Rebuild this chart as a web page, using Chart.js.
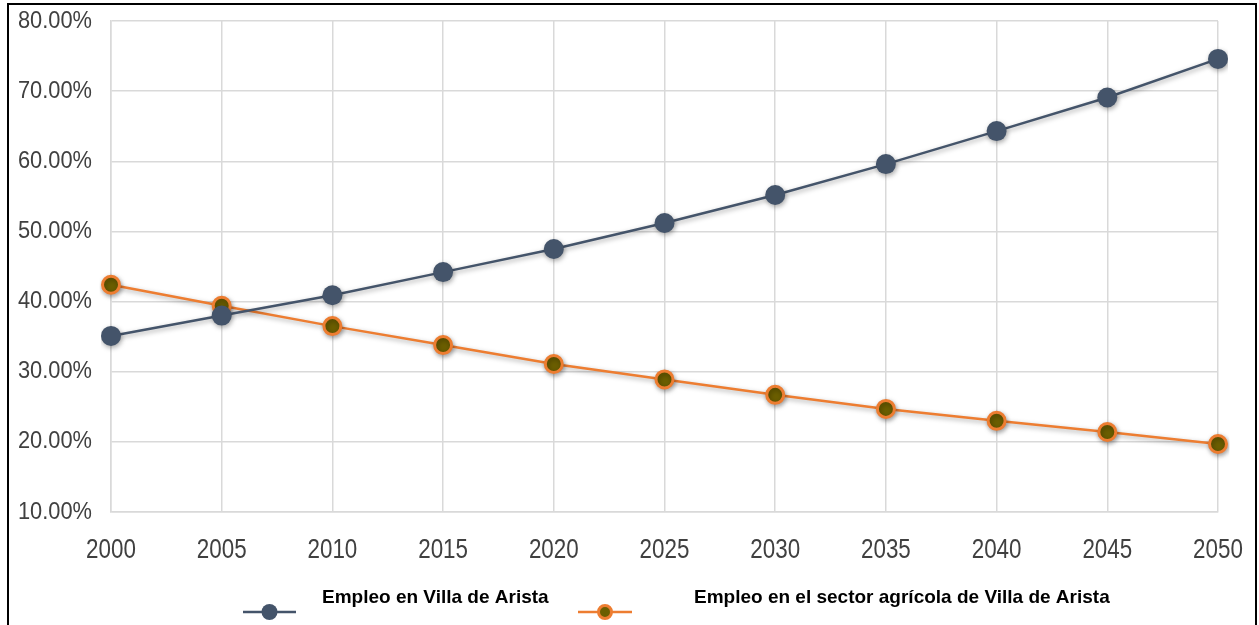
<!DOCTYPE html>
<html>
<head>
<meta charset="utf-8">
<style>
  html, body { margin: 0; padding: 0; background: #fff; }
  #wrap { width: 1259px; height: 625px; position: relative; }
</style>
<script src="https://cdn.jsdelivr.net/npm/chart.js@4/dist/chart.umd.min.js"></script>
</head>
<body>
<div id="wrap"><canvas id="chart" width="1259" height="625"></canvas></div>
<script>
  // Years on the x axis
  var years = ["2000", "2005", "2010", "2015", "2020", "2025", "2030", "2035", "2040", "2045", "2050"];

  // Share of employment, percent
  var empleoTotal = [35.1, 38.0, 40.9, 44.2, 47.5, 51.2, 55.2, 59.6, 64.3, 69.1, 74.6];
  var empleoAgricola = [42.4, 39.4, 36.5, 33.8, 31.1, 28.9, 26.7, 24.7, 23.0, 21.4, 19.7];

  var seriesNames = ["Empleo en Villa de Arista", "Empleo en el sector agrícola de Villa de Arista"];

  var FONT = "'Liberation Sans', Arial, sans-serif";
  var TEXT = "#404040";
  var GRID = "#d9d9d9";

  function pct(v) { return v.toFixed(2) + "%"; }

  // soft drop shadow under lines and markers
  var shadowPlugin = {
    id: "shadow",
    beforeDatasetDraw: function (chart) {
      var ctx = chart.ctx;
      ctx.save();
      ctx.shadowColor = "rgba(0,0,0,0.35)";
      ctx.shadowBlur = 5;
      ctx.shadowOffsetX = 1;
      ctx.shadowOffsetY = 2;
    },
    afterDatasetDraw: function (chart) {
      chart.ctx.restore();
    }
  };

  // narrow tick labels: no condensed face installed, so squeeze the regular one
  function narrowText(ctx, text, x, y, size, squeeze, align) {
    ctx.save();
    ctx.font = size + "px " + FONT;
    ctx.fillStyle = TEXT;
    ctx.textBaseline = "middle";
    ctx.textAlign = align;
    ctx.translate(x, y);
    ctx.scale(squeeze, 1);
    ctx.fillText(text, 0, 0);
    ctx.restore();
  }

  var tickLabelPlugin = {
    id: "tickLabels",
    afterDraw: function (chart) {
      var ctx = chart.ctx;
      var xs = chart.scales.x, ys = chart.scales.y;
      xs.ticks.forEach(function (t, i) {
        narrowText(ctx, xs.getLabelForValue(t.value), xs.getPixelForTick(i), 550, 28, 0.8, "center");
      });
      ys.ticks.forEach(function (t, i) {
        narrowText(ctx, pct(t.value), 92, ys.getPixelForTick(i), 24, 0.91, "right");
      });
    }
  };

  // legend below the axis: line + marker sitting lower than the label
  var legendPlugin = {
    id: "bottomLegend",
    afterDraw: function (chart) {
      var ctx = chart.ctx;
      var items = [
        { x0: 243, x1: 296, tx: 322 },
        { x0: 578, x1: 632, tx: 694 }
      ];
      chart.data.datasets.forEach(function (ds, i) {
        var it = items[i];
        var cy = 612;
        ctx.save();
        ctx.strokeStyle = ds.borderColor;
        ctx.lineWidth = 2.5;
        ctx.beginPath();
        ctx.moveTo(it.x0, cy);
        ctx.lineTo(it.x1, cy);
        ctx.stroke();
        ctx.beginPath();
        ctx.arc((it.x0 + it.x1) / 2, cy, ds.pointBorderWidth ? 6.5 : 8, 0, Math.PI * 2);
        ctx.fillStyle = ds.pointBackgroundColor;
        ctx.fill();
        if (ds.pointBorderWidth) {
          ctx.lineWidth = ds.pointBorderWidth;
          ctx.strokeStyle = ds.pointBorderColor;
          ctx.stroke();
        }
        ctx.fillStyle = "#000";
        ctx.font = "bold 19px " + FONT;
        ctx.textBaseline = "middle";
        ctx.textAlign = "left";
        ctx.fillText(ds.label, it.tx, 598);
        ctx.restore();
      });
    }
  };

  // outer frame
  var framePlugin = {
    id: "frame",
    afterDraw: function (chart) {
      var ctx = chart.ctx;
      ctx.save();
      ctx.strokeStyle = "#000";
      ctx.lineWidth = 2;
      ctx.strokeRect(8, 4, 1248, 640);
      ctx.restore();
    }
  };

  new Chart(document.getElementById("chart"), {
    type: "line",
    data: {
      labels: years,
      datasets: [
        {
          label: seriesNames[0],
          data: empleoTotal,
          borderColor: "#44546A",
          borderWidth: 2.5,
          pointRadius: 10,
          pointBackgroundColor: "#44546A",
          pointBorderColor: "#44546A",
          pointBorderWidth: 0,
          tension: 0
        },
        {
          label: seriesNames[1],
          data: empleoAgricola,
          borderColor: "#ED7D31",
          borderWidth: 2.5,
          pointRadius: 8.5,
          pointBackgroundColor: "#6B5E00",
          pointBorderColor: "#ED7D31",
          pointBorderWidth: 3,
          tension: 0
        }
      ]
    },
    options: {
      responsive: false,
      animation: false,
      layout: { padding: { left: 0, top: 21, right: 41, bottom: 0 } },
      plugins: {
        legend: { display: false },
        tooltip: { enabled: false }
      },
      scales: {
        x: {
          offset: false,
          grid: { color: GRID, lineWidth: 1.5, drawTicks: false },
          border: { color: GRID, width: 1.5 },
          ticks: { display: false },
          afterFit: function (s) { s.height = 113; s.paddingLeft = 0; s.paddingRight = 0; }
        },
        y: {
          min: 10,
          max: 80,
          grid: { color: GRID, lineWidth: 1.5, drawTicks: false },
          border: { color: GRID, width: 1.5 },
          ticks: { display: false, stepSize: 10 },
          afterFit: function (s) { s.width = 111; s.paddingTop = 0; s.paddingBottom = 0; }
        }
      }
    },
    plugins: [shadowPlugin, tickLabelPlugin, legendPlugin, framePlugin]
  });
</script>
</body>
</html>
